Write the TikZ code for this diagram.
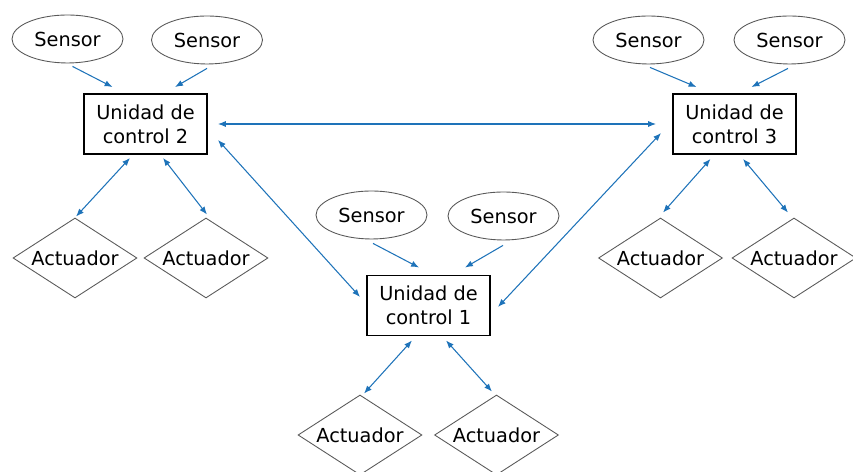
\documentclass[tikz,border=0pt]{standalone}
\usepackage{fontspec}
\setmainfont{DejaVu Sans}
\usepackage{tikz}
\usetikzlibrary{shapes.geometric,arrows.meta,calc}
\definecolor{linkblue}{RGB}{30,115,185}

\begin{document}
\begin{tikzpicture}[x=0.02cm,y=0.02cm,
    font=\fontsize{11}{13.6}\selectfont,
    unidad/.style={draw=black,line width=1.1pt,minimum width=2.46cm,minimum height=1.2cm,align=center,inner sep=0pt},
    sensor/.style={ellipse,draw=black!65,line width=0.5pt,minimum width=2.22cm,minimum height=0.96cm,inner sep=0pt},
    actuador/.style={diamond,draw=black!65,line width=0.5pt,aspect=1.55,minimum width=2.48cm,minimum height=1.6cm,inner sep=0pt},
    link/.style={draw=linkblue,line width=0.6pt},
    tip/.style={-{Latex[length=4.5pt,width=3.5pt]}},
    tips/.style={{Latex[length=4.5pt,width=3.5pt]}-{Latex[length=4.5pt,width=3.5pt]}}]
  \useasboundingbox (0,0) rectangle (853,472);
  % unidades de control
  \node[unidad] (c2) at (145.5,348) {Unidad de\\control 2};
  \node[unidad] (c3) at (734.5,348) {Unidad de\\control 3};
  \node[unidad] (c1) at (428.5,166.5) {Unidad de\\control 1};
  % sensores
  \node[sensor] (s2a) at (67.5,433) {Sensor};
  \node[sensor] (s2b) at (207,432) {Sensor};
  \node[sensor] (s3a) at (648.5,432) {Sensor};
  \node[sensor] (s3b) at (789.5,432) {Sensor};
  \node[sensor] (s1a) at (371.5,257) {Sensor};
  \node[sensor] (s1b) at (503.5,256) {Sensor};
  % actuadores
  \node[actuador] (a2a) at (75,214) {Actuador};
  \node[actuador] (a2b) at (206,214) {Actuador};
  \node[actuador] (a3a) at (660.5,214) {Actuador};
  \node[actuador] (a3b) at (794,214) {Actuador};
  \node[actuador] (a1a) at (360,37) {Actuador};
  \node[actuador] (a1b) at (496.5,37) {Actuador};
  % sensores -> unidades
  \draw[link,tip] ($(s2a.south)+(5,-3)$) -- ($(c2.north)+(-33,6)$);
  \draw[link,tip] ($(s2b.south)+(0,-4)$) -- ($(c2.north)+(29.5,6)$);
  \draw[link,tip] ($(s3a.south)+(1.5,-3)$) -- ($(c3.north)+(-38,6)$);
  \draw[link,tip] ($(s3b.south)+(-1.5,-4)$) -- ($(c3.north)+(17,6)$);
  \draw[link,tip] ($(s1a.south)+(1.5,-4)$) -- ($(c1.north)+(-9.5,7)$);
  \draw[link,tip] ($(s1b.south)+(-0.5,-5)$) -- ($(c1.north)+(36.5,7)$);
  % unidades <-> actuadores
  \draw[link,tips] ($(c2.south)+(-15.5,-3)$) -- ($(a2a.north)+(1,1)$);
  \draw[link,tips] ($(c2.south)+(17.5,-3)$) -- ($(a2b.north)+(1,3)$);
  \draw[link,tips] ($(c3.south)+(-24,-4)$) -- ($(a3a.north)+(2.5,5)$);
  \draw[link,tips] ($(c3.south)+(8.5,-4)$) -- ($(a3b.north)+(-6,5)$);
  \draw[link,tips] ($(c1.south)+(-16.5,-4)$) -- ($(a1a.north)+(4,1)$);
  \draw[link,tips] ($(c1.south)+(17.5,-4)$) -- ($(a1b.north)+(-4.5,3)$);
  % unidades <-> unidades
  \draw[link,tips] ($(c2.east)+(10,0)$) -- ($(c3.west)+(-16,0)$);
  \draw[link,tips] ($(c2.east)+(10,-16)$) -- ($(c1.west)+(-6,8.5)$);
  \draw[link,tips] ($(c1.east)+(7,-1.5)$) -- ($(c3.west)+(-11,-9)$);
\end{tikzpicture}
\end{document}
